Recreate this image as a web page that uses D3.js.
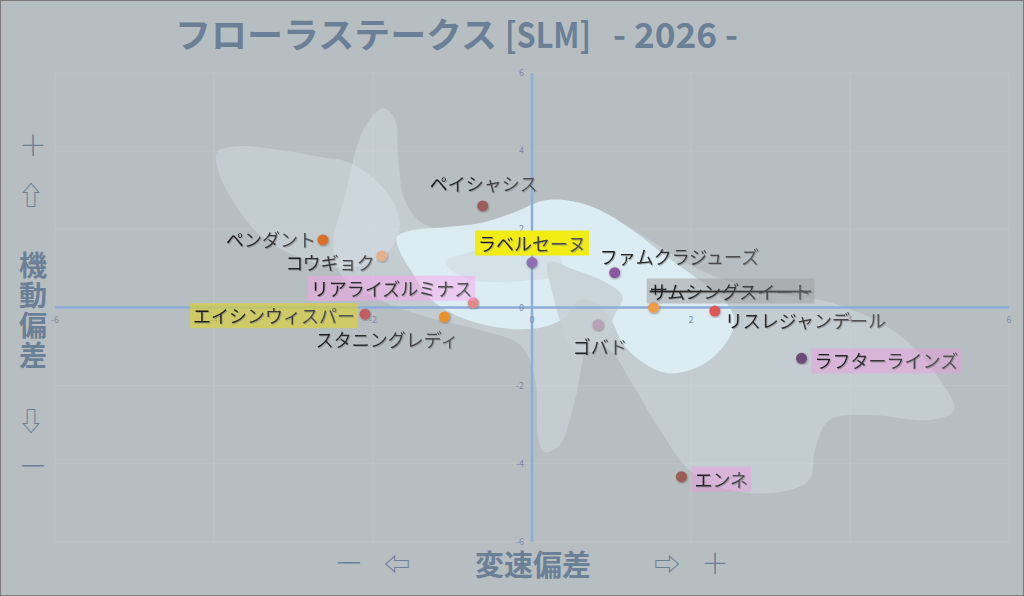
<!DOCTYPE html>
<html>
<head>
<meta charset="utf-8">
<script src="https://cdn.jsdelivr.net/npm/d3@7"></script>
<style>
  html, body { margin: 0; padding: 0; background: #b7bec1; }
  svg { display: block; font-family: "Noto Sans CJK JP", "Noto Sans", sans-serif; }
</style>
</head>
<body>
<div id="chart"></div>
<script>
// horses and their deviations (x: 変速偏差, y: 機動偏差)
const horses = ["ペイシャシス", "ペンダント", "コウギョク", "ラベルセーヌ", "リアライズルミナス",
  "スタニングレディ", "エイシンウィスパー", "ファムクラジューズ", "サムシングスイート",
  "リスレジャンデール", "ゴバド", "ラフターラインズ", "エンネ"];
const speedDev = [-0.62, -2.63, -1.89, 0.0, -0.74, -1.10, -2.10, 1.04, 1.53, 2.30, 0.83, 3.39, 1.88];
const mobilityDev = [2.60, 1.73, 1.32, 1.15, 0.12, -0.24, -0.17, 0.89, 0.0, -0.09, -0.44, -1.30, -4.33];

const ticks = [-6, -4, -2, 0, 2, 4, 6];

// background density shapes, in data units
const blobLeft = [[-3.96, 3.98], [-3.67, 4.13], [-3.17, 4.03], [-2.66, 3.85], [-2.29, 3.70], [-1.85, 3.01],
  [-1.66, 2.11], [-1.85, 1.34], [-2.35, 1.01], [-2.91, 1.27], [-3.42, 1.85], [-3.77, 2.75], [-3.95, 3.52]];
const blobMain = [[-1.88, 5.10], [-1.73, 4.85], [-1.68, 3.77], [-1.60, 2.75], [-1.34, 2.11], [-0.78, 2.03],
  [-0.15, 2.29], [0.29, 2.75], [0.85, 2.49], [1.48, 1.73], [2.11, 0.96], [2.86, 0.45], [3.87, 0.06],
  [4.62, -0.70], [5.13, -1.85], [5.31, -2.62], [5.00, -2.88], [4.25, -2.75], [3.74, -2.88], [3.56, -3.64],
  [3.49, -4.41], [3.12, -4.72], [2.49, -4.67], [1.98, -4.16], [1.61, -3.13], [1.23, -1.85], [0.98, -1.09],
  [0.73, -0.96], [0.54, -2.37], [0.35, -3.52], [0.16, -3.70], [0.08, -3.39], [0.04, -1.85], [-0.15, -0.96],
  [-0.65, -0.58], [-1.28, -0.27], [-1.91, 0.19], [-2.40, 0.83], [-2.50, 1.60], [-2.35, 2.88], [-2.12, 4.54]];
const blobCore = [[-1.70, 1.80], [-1.49, 1.98], [-1.07, 2.06], [-0.65, 2.16], [-0.24, 2.42], [0.19, 2.75],
  [0.73, 2.60], [1.23, 2.03], [1.67, 1.34], [2.11, 0.70], [2.42, 0.19], [2.55, -0.37], [2.39, -1.04],
  [2.09, -1.52], [1.71, -1.68], [1.38, -1.39], [1.13, -0.88], [1.01, -0.37], [0.85, 0.06], [0.60, 0.19],
  [0.41, -0.27], [0.10, -0.52], [-0.40, -0.52], [-0.88, -0.27], [-1.26, 0.19], [-1.51, 0.91], [-1.66, 1.42]];
const notchRight = [[0.20, 1.16], [0.54, 0.96], [0.92, 0.65], [1.14, 0.27], [1.04, -0.19], [0.92, -0.83],
  [0.73, -1.14], [0.48, -0.96], [0.35, -0.32], [0.25, 0.45]];
const notchLeft = [[-1.09, 1.16], [-0.78, 1.42], [-0.34, 1.60], [0.04, 1.60], [0.35, 1.34], [0.35, 0.83],
  [-0.03, 0.70], [-0.46, 0.65], [-0.84, 0.75]];

// styles / layout kept apart from the values
const dotColors = ["#a05c5c", "#d8702c", "#e2b08c", "#9070b0", "#e08a8a", "#e8902c", "#c05c66",
  "#8a58a0", "#f09a4c", "#e05454", "#b8a0b8", "#6c4c7c", "#9c5c56"];
const labelLayout = [
  { dx: 1, dy: -15, anchor: "middle" },
  { dx: -7, dy: 7, anchor: "end" },
  { dx: -7, dy: 14, anchor: "end" },
  { dx: 0, dy: -12, anchor: "middle", bg: "#f0ec14", op: 1 },
  { dx: -1, dy: -7, anchor: "end", bg: "rgb(255,160,240)", op: 0.45 },
  { dx: 14, dy: 30, anchor: "end" },
  { dx: -10, dy: 9, anchor: "end", bg: "rgb(222,210,40)", op: 0.6 },
  { dx: -15, dy: -9, anchor: "start" },
  { dx: -4, dy: -9, anchor: "start", bg: "rgb(160,160,160)", op: 0.55, strike: true },
  { dx: 10, dy: 17, anchor: "start" },
  { dx: 2, dy: 29, anchor: "middle" },
  { dx: 13, dy: 10, anchor: "start", bg: "rgb(240,150,225)", op: 0.45 },
  { dx: 13, dy: 10, anchor: "start", bg: "rgb(240,150,225)", op: 0.45 }
];

const width = 1024, height = 596;
const axisColor = "#6b7f97";

const svg = d3.select("#chart").append("svg")
  .attr("width", width)
  .attr("height", height);

const defs = svg.append("defs");
const grad = defs.append("linearGradient").attr("id", "lblGrad").attr("x1", 0).attr("x2", 1);
grad.append("stop").attr("offset", 0).attr("stop-color", "#1a1a1a");
grad.append("stop").attr("offset", 1).attr("stop-color", "#585858");
defs.append("filter").attr("id", "dotShadow")
  .append("feDropShadow").attr("dx", 0.6).attr("dy", 1).attr("stdDeviation", 0.8)
  .attr("flood-color", "#000").attr("flood-opacity", 0.35);
defs.append("filter").attr("id", "txtShadow")
  .append("feDropShadow").attr("dx", 1).attr("dy", 1).attr("stdDeviation", 0.6)
  .attr("flood-color", "#777").attr("flood-opacity", 0.5);

svg.append("rect")
  .attr("x", 0.5).attr("y", 0.5)
  .attr("width", width - 1).attr("height", height - 1)
  .attr("fill", "#b7bec1")
  .attr("stroke", "#7a7a7a");

const x = d3.scaleLinear().domain([-6, 6]).range([55, 1009]);
const y = d3.scaleLinear().domain([-6, 6]).range([542, 73]);

// grid (very faint)
const grid = svg.append("g");
grid.selectAll(".vg").data(ticks).join("line")
  .attr("x1", d => x(d)).attr("x2", d => x(d))
  .attr("y1", y(6)).attr("y2", y(-6))
  .attr("stroke", "#bcc3c6").attr("stroke-width", 1);
grid.selectAll(".hg").data(ticks).join("line")
  .attr("y1", d => y(d)).attr("y2", d => y(d))
  .attr("x1", x(-6)).attr("x2", x(6))
  .attr("stroke", "#bcc3c6").attr("stroke-width", 1);

// density blobs
const blob = d3.line()
  .x(d => x(d[0]))
  .y(d => y(d[1]))
  .curve(d3.curveCatmullRomClosed.alpha(0.5));

const blobs = svg.append("g");
blobs.append("path").attr("d", blob(blobLeft)).attr("fill", "rgb(225,240,248)").attr("opacity", 0.28);
blobs.append("path").attr("d", blob(blobMain)).attr("fill", "rgb(225,240,248)").attr("opacity", 0.3);
blobs.append("path").attr("d", blob(blobCore)).attr("fill", "#dcedf3").attr("opacity", 0.95);
blobs.append("path").attr("d", blob(notchRight)).attr("fill", "#c6d0d5").attr("opacity", 0.8);
blobs.append("path").attr("d", blob(notchLeft)).attr("fill", "#cad5da").attr("opacity", 0.4);

// axes through zero
svg.append("line")
  .attr("x1", x(-6)).attr("x2", x(6)).attr("y1", y(0)).attr("y2", y(0))
  .attr("stroke", "#8eacd9").attr("stroke-width", 2.5);
svg.append("line")
  .attr("x1", x(0)).attr("x2", x(0)).attr("y1", y(6)).attr("y2", y(-6))
  .attr("stroke", "#8eacd9").attr("stroke-width", 2.5);

// tick labels
svg.append("g").selectAll("text").data(ticks).join("text")
  .attr("x", d => x(d)).attr("y", y(0) + 15)
  .attr("text-anchor", "middle")
  .attr("font-size", 9).attr("fill", "#7c8ba5")
  .text(d => d);
svg.append("g").selectAll("text").data(ticks).join("text")
  .attr("x", x(0) - 8).attr("y", d => y(d) + 3)
  .attr("text-anchor", "end")
  .attr("font-size", 9).attr("fill", "#7c8ba5")
  .text(d => d);

// title
const title = svg.append("g").attr("fill", axisColor).attr("font-weight", "bold");
title.append("text").attr("x", 175).attr("y", 48).attr("font-size", 35)
  .attr("textLength", 322).attr("lengthAdjust", "spacingAndGlyphs")
  .text("フローラステークス");
title.append("text").attr("x", 505).attr("y", 48).attr("font-size", 35)
  .attr("textLength", 86).attr("lengthAdjust", "spacingAndGlyphs")
  .text("[SLM]");
title.append("text").attr("x", 613).attr("y", 48).attr("font-size", 35)
  .attr("textLength", 125).attr("lengthAdjust", "spacingAndGlyphs")
  .style("white-space", "pre")
  .text("- 2026 -");

// axis titles
const yTitle = svg.append("g").attr("fill", axisColor).attr("text-anchor", "middle");
yTitle.append("text").attr("x", 33).attr("y", 156).attr("font-size", 28).attr("font-weight", 300).text("＋");
yTitle.append("text").attr("x", 31).attr("y", 205).attr("font-size", 26).text("⇧");
"機動偏差".split("").forEach((ch, i) => {
  yTitle.append("text").attr("x", 33).attr("y", 276 + i * 30)
    .attr("font-size", 28).attr("font-weight", "bold").text(ch);
});
yTitle.append("text").attr("x", 31).attr("y", 431).attr("font-size", 26).text("⇩");
yTitle.append("text").attr("x", 33).attr("y", 477).attr("font-size", 28).attr("font-weight", 300).text("ー");

const xTitle = svg.append("g").attr("fill", axisColor).attr("text-anchor", "middle");
xTitle.append("text").attr("x", 349).attr("y", 574).attr("font-size", 28).attr("font-weight", 300).text("ー");
xTitle.append("text").attr("x", 397).attr("y", 574).attr("font-size", 26).text("⇦");
xTitle.append("text").attr("x", 533).attr("y", 576).attr("font-size", 29).attr("font-weight", "bold").text("変速偏差");
xTitle.append("text").attr("x", 667).attr("y", 574).attr("font-size", 26).text("⇨");
xTitle.append("text").attr("x", 715).attr("y", 574).attr("font-size", 28).attr("font-weight", 300).text("＋");

// points
svg.append("g").selectAll("circle").data(horses).join("circle")
  .attr("cx", (d, i) => x(speedDev[i]))
  .attr("cy", (d, i) => y(mobilityDev[i]))
  .attr("r", 5.5)
  .attr("fill", (d, i) => dotColors[i])
  .attr("filter", "url(#dotShadow)");

// labels
const labels = svg.append("g");
horses.forEach((name, i) => {
  const lay = labelLayout[i];
  const g = labels.append("g");
  const t = g.append("text")
    .attr("x", x(speedDev[i]) + lay.dx)
    .attr("y", y(mobilityDev[i]) + lay.dy)
    .attr("text-anchor", lay.anchor)
    .attr("font-size", 18)
    .attr("fill", "url(#lblGrad)")
    .attr("filter", "url(#txtShadow)")
    .text(name);
  if (lay.strike) t.style("text-decoration", "line-through");
  if (lay.bg) {
    const b = t.node().getBBox();
    g.insert("rect", "text")
      .attr("x", b.x - 3).attr("y", b.y + 1)
      .attr("width", b.width + 6).attr("height", b.height - 1)
      .attr("fill", lay.bg).attr("opacity", lay.op);
  }
});
</script>
</body>
</html>
